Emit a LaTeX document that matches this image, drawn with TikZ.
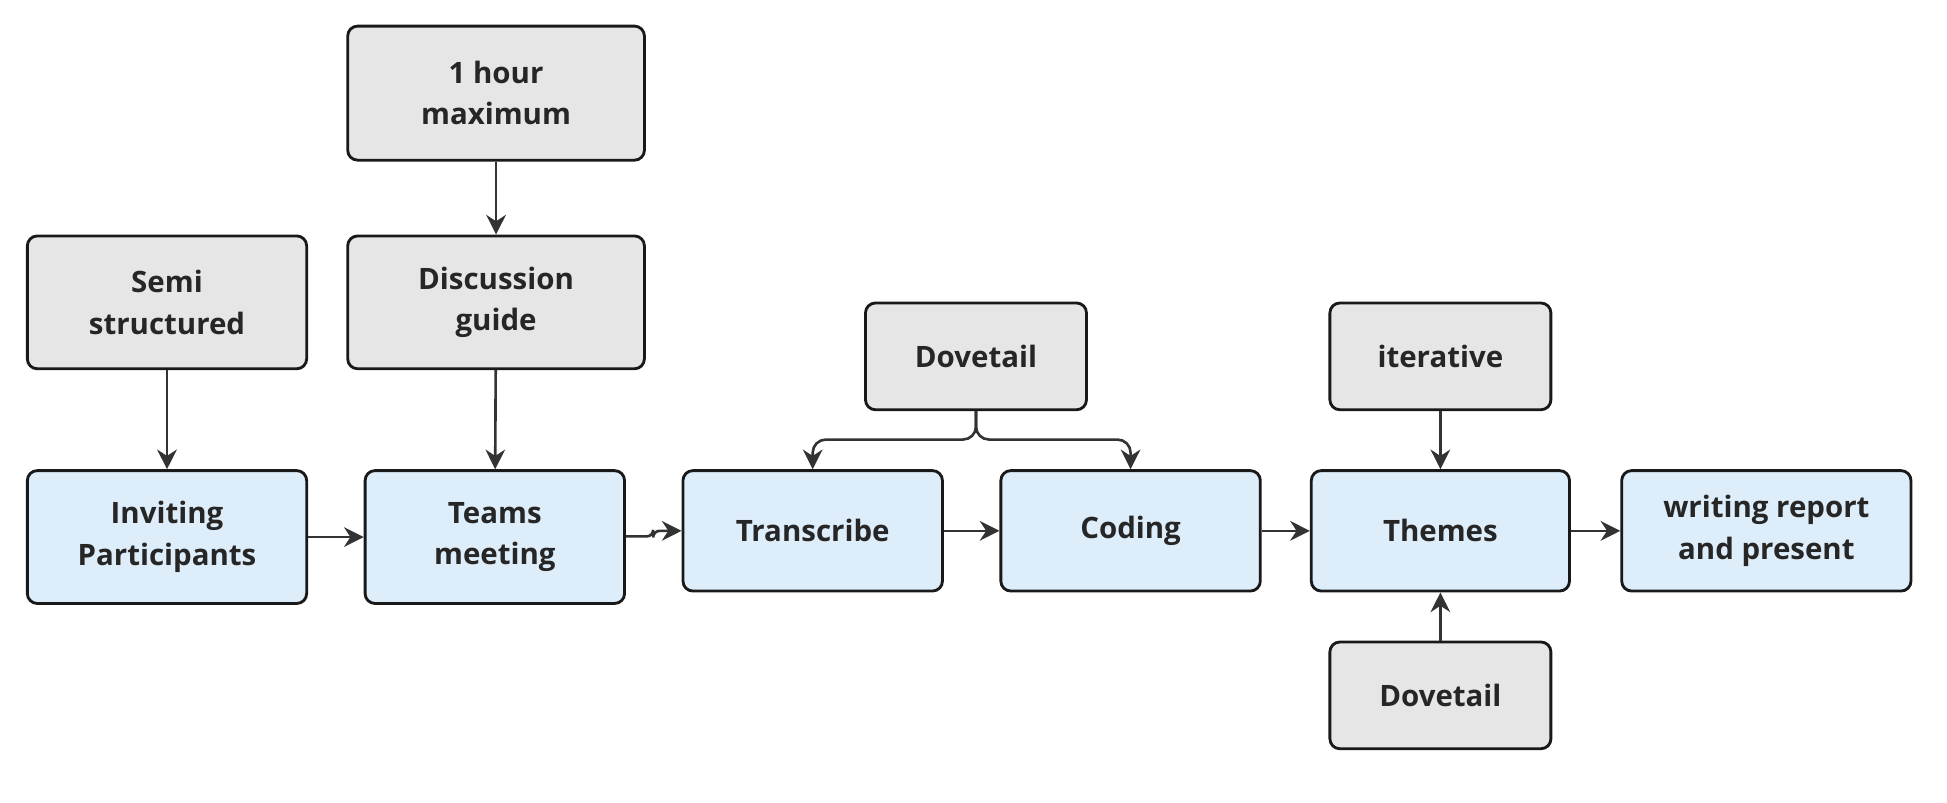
\documentclass[tikz,border=0pt]{standalone}
\usepackage{fontspec}
\setmainfont{Open Sans}
\usetikzlibrary{arrows.meta}
\definecolor{boxgray}{HTML}{E6E6E6}
\definecolor{boxblue}{HTML}{DEEDFA}
\definecolor{edgec}{HTML}{333333}
\tikzset{
    box/.style={draw=black!90, line width=1.3pt, rounded corners=0.16cm, align=center,
        font=\fontsize{13.5}{19}\selectfont\bfseries, text=black!85, inner sep=0pt},
    note/.style={box, fill=boxgray},
    stage/.style={box, fill=boxblue},
    link/.style={draw=edgec, line width=1.2pt, -{Stealth[length=9pt,width=9pt]}}
}
\begin{document}
\begin{tikzpicture}[x=0.02cm, y=-0.02cm]
    \useasboundingbox (0,0) rectangle (1568,646);

    % top notes
    \node[note, minimum width=4.78cm, minimum height=2.16cm] (hour) at (399.5,75) {1 hour\\maximum};
    \node[note, minimum width=4.78cm, minimum height=2.14cm] (guide) at (399.5,243.5) {Discussion\\guide};
    \node[note, minimum width=4.5cm, minimum height=2.14cm] (semi) at (134.5,243.5) {Semi\\structured};
    \node[note, minimum width=3.56cm, minimum height=1.72cm] (dove) at (786,287) {Dovetail};
    \node[note, minimum width=3.56cm, minimum height=1.72cm] (iter) at (1160,287) {iterative};
    \node[note, minimum width=3.56cm, minimum height=1.72cm] (doveb) at (1160,560) {Dovetail};

    % main stages
    \node[stage, minimum width=4.5cm, minimum height=2.14cm] (invite) at (134.5,432.5) {Inviting\\Participants};
    \node[stage, minimum width=4.18cm, minimum height=2.14cm] (teams) at (398.5,432.5) {Teams\\meeting};
    \node[stage, minimum width=4.18cm, minimum height=1.94cm] (trans) at (654.5,427.5) {Transcribe};
    \node[stage, minimum width=4.18cm, minimum height=1.94cm] (coding) at (910.5,427.5) {Coding};
    \node[stage, minimum width=4.16cm, minimum height=1.94cm] (themes) at (1160,427.5) {Themes};
    \node[stage, minimum width=4.66cm, minimum height=1.94cm] (report) at (1422.5,427.5) {writing report\\and present};

    % connectors
    \draw[link] (hour) -- (guide);
    \draw[link] (guide) -- (teams);
    \draw[link] (semi) -- (invite);
    \draw[link] (invite) -- (teams.west |- invite);
    \draw[link, rounded corners=3pt] (teams.east |- 0,432) -- (526,432) -- (526,427.5) -- (trans.west);
    \draw[link] (trans) -- (coding);
    \draw[link] (coding) -- (themes);
    \draw[link] (themes) -- (report);
    \draw[link, rounded corners=6pt] (dove.south) -- (786,354) -| (trans.north);
    \draw[link, rounded corners=6pt] (dove.south) -- (786,354) -| (coding.north);
    \draw[link] (iter) -- (themes);
    \draw[link] (doveb) -- (themes);
\end{tikzpicture}
\end{document}
